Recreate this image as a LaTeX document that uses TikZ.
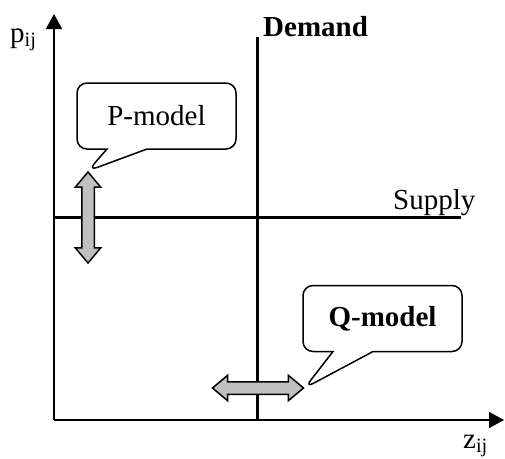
\documentclass[tikz,border=0pt]{standalone}
\usepackage{fontspec}
\setmainfont{Liberation Serif}
\usetikzlibrary{arrows.meta,shapes.arrows,shapes.callouts}
\definecolor{arrowgray}{RGB}{192,192,192}
\begin{document}
\begin{tikzpicture}[x=1pt,y=-1pt,
  every node/.style={font=\fontsize{29}{34}\selectfont},
  axis/.style={line width=1.5pt,-{Triangle[length=15pt,width=16pt]}},
  curve/.style={line width=3pt},
  shiftarrow/.style={double arrow,draw,line width=1.5pt,fill=arrowgray,inner sep=5.5pt,
    minimum width=0pt,minimum height=91pt,double arrow head extend=6.5pt,double arrow tip angle=80},
  bubble/.style={rectangle callout,draw,line width=1.5pt,fill=white,rounded corners=10pt,
    minimum width=159pt,minimum height=66pt,callout pointer width=40pt}]
  \useasboundingbox (0,0) rectangle (505,458);
  % axes
  \coordinate (O) at (54,420);
  \coordinate (ytop) at (54,14);
  \coordinate (xend) at (504,420);
  \draw[axis] (O) -- (ytop);
  \draw[axis] (O) -- (xend);
  \node[anchor=base west,inner sep=0] (plabel) at (10,42) {p\textsubscript{ij}};
  \node[anchor=base west,inner sep=0] (zlabel) at (463,448) {z\textsubscript{ij}};
  % demand and supply
  \coordinate (dtop) at (257,37);
  \coordinate (dbot) at (257,420);
  \coordinate (sleft) at (54,217);
  \coordinate (sright) at (461,217);
  \draw[curve] (dtop) -- (dbot);
  \draw[curve] (sleft) -- (sright);
  \node[anchor=base west,inner sep=0,font=\fontsize{29}{34}\selectfont\bfseries] (demand) at (263,36) {Demand};
  \node[anchor=base west,inner sep=0] (supply) at (393,209) {Supply};
  % shifts
  \node[shiftarrow,rotate=90] (parrow) at (88,217.5) {};
  \node[shiftarrow] (qarrow) at (258,388) {};
  \node[bubble,callout absolute pointer={(parrow.east)}] (pbox) at (156.5,116) {P-model};
  \node[bubble,callout absolute pointer={(qarrow.east)},font=\fontsize{29}{34}\selectfont\bfseries] (qbox) at (382.5,318.5) {Q-model};
\end{tikzpicture}
\end{document}
